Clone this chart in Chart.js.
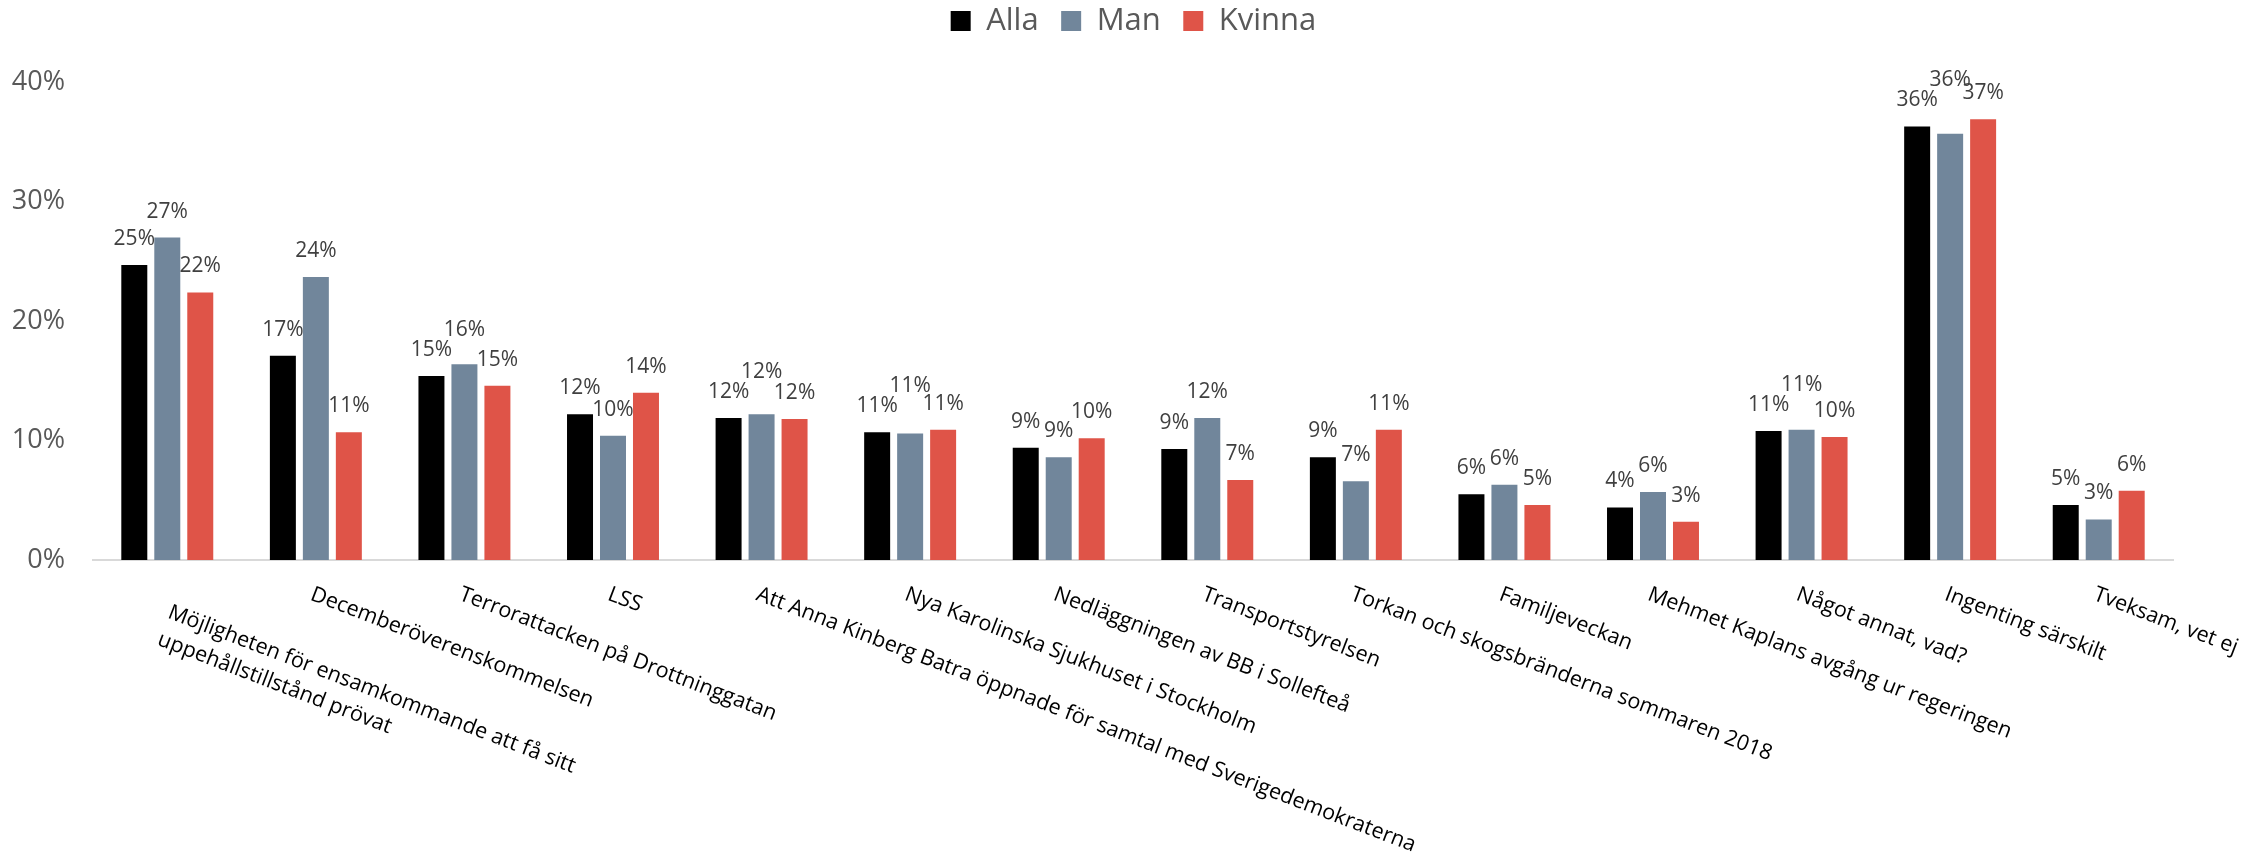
<!DOCTYPE html>
<html lang="sv">
<head>
<meta charset="utf-8">
<title>Händelser</title>
<script src="https://cdn.jsdelivr.net/npm/chart.js@4.4.1/dist/chart.umd.min.js"></script>
<style>
    html, body { margin: 0; padding: 0; background: #ffffff; }
    #wrap { width: 2267px; height: 860px; }
</style>
</head>
<body>
<div id="wrap"><canvas id="eventChart" width="2267" height="860"></canvas></div>
<script>
const categories = [
    ["Möjligheten för ensamkommande att få sitt", "uppehållstillstånd prövat"],
    "Decemberöverenskommelsen",
    "Terrorattacken på Drottninggatan",
    "LSS",
    "Att Anna Kinberg Batra öppnade för samtal med Sverigedemokraterna",
    "Nya Karolinska Sjukhuset i Stockholm",
    "Nedläggningen av BB i Sollefteå",
    "Transportstyrelsen",
    "Torkan och skogsbränderna sommaren 2018",
    "Familjeveckan",
    "Mehmet Kaplans avgång ur regeringen",
    "Något annat, vad?",
    "Ingenting särskilt",
    "Tveksam, vet ej"
];
const seriesNames = ["Alla", "Man", "Kvinna"];
const alla   = [24.7, 17.1, 15.4, 12.2, 11.9, 10.7, 9.4, 9.3, 8.6, 5.5, 4.4, 10.8, 36.3, 4.6];
const man    = [27.0, 23.7, 16.4, 10.4, 12.2, 10.6, 8.6, 11.9, 6.6, 6.3, 5.7, 10.9, 35.7, 3.4];
const kvinna = [22.4, 10.7, 14.6, 14.0, 11.8, 10.9, 10.2, 6.7, 10.9, 4.6, 3.2, 10.3, 36.9, 5.8];
const yTicks = [0, 10, 20, 30, 40];

const FONT = "'Open Sans', sans-serif";
Chart.defaults.font.family = FONT;

// value labels above each bar, the middle one is lifted when it hits the first one
const barValueLabels = {
    id: 'barValueLabels',
    afterDatasetsDraw(chart) {
        const ctx = chart.ctx;
        const offset = 26;
        const minGap = 20;
        ctx.save();
        ctx.font = "21px " + FONT;
        ctx.fillStyle = '#404040';
        ctx.textAlign = 'center';
        ctx.textBaseline = 'middle';

        const metas = chart.data.datasets.map((ds, i) => chart.getDatasetMeta(i));
        categories.forEach((cat, j) => {
            const items = chart.data.datasets.map((ds, i) => {
                const bar = metas[i].data[j];
                const text = Math.round(ds.data[j]) + '%';
                return { text, x: bar.x, y: bar.y - offset, w: ctx.measureText(text).width };
            });
            const first = items[0];
            const mid = items[1];
            const overlapX = Math.abs(mid.x - first.x) < (mid.w + first.w) / 2;
            if (overlapX && Math.abs(first.y - mid.y) < minGap) {
                mid.y = first.y - minGap;
            }
            items.forEach(it => ctx.fillText(it.text, it.x, it.y));
        });
        ctx.restore();
    }
};

// category labels slanted down to the right, starting at each tick
const slantedCategoryLabels = {
    id: 'slantedCategoryLabels',
    afterDraw(chart) {
        const ctx = chart.ctx;
        const xScale = chart.scales.x;
        const angle = 21 * Math.PI / 180;
        const lineHeight = 29;
        const capHeight = 15.4;
        ctx.save();
        ctx.font = "21.5px " + FONT;
        ctx.fillStyle = '#000000';
        ctx.textAlign = 'left';
        ctx.textBaseline = 'alphabetic';
        categories.forEach((label, i) => {
            const lines = Array.isArray(label) ? label : [label];
            const extra = lines.length - 1;
            const left = xScale.getPixelForValue(i) - 1 + extra * 6;
            const top = xScale.top + 25 + extra * 18;
            ctx.save();
            ctx.translate(left, top);
            ctx.rotate(angle);
            lines.forEach((line, k) => {
                ctx.fillText(line, 0, capHeight + k * lineHeight);
            });
            ctx.restore();
        });
        ctx.restore();
    }
};

new Chart(document.getElementById('eventChart'), {
    type: 'bar',
    data: {
        labels: categories,
        datasets: [
            { label: seriesNames[0], data: alla, backgroundColor: '#000000' },
            { label: seriesNames[1], data: man, backgroundColor: '#71869b' },
            { label: seriesNames[2], data: kvinna, backgroundColor: '#df5448' }
        ]
    },
    options: {
        responsive: false,
        devicePixelRatio: 1,
        animation: false,
        datasets: {
            bar: { categoryPercentage: 0.666, barPercentage: 0.788 }
        },
        layout: { padding: { top: -17, right: 0, bottom: 0, left: 0 } },
        plugins: {
            legend: {
                position: 'top',
                align: 'center',
                labels: {
                    boxWidth: 20,
                    boxHeight: 20,
                    padding: 22.5,
                    color: '#595959',
                    font: { size: 31 }
                }
            },
            tooltip: { enabled: false }
        },
        scales: {
            x: {
                grid: { display: false, drawTicks: false },
                border: { display: true, color: '#d9d9d9', width: 2 },
                ticks: { display: false },
                afterFit: scale => { scale.height = 300; }
            },
            y: {
                min: 0,
                max: 43,
                grid: { display: false, drawTicks: false },
                border: { display: false },
                ticks: {
                    padding: 28,
                    color: '#595959',
                    font: { size: 27 },
                    callback: v => v + '%'
                },
                afterBuildTicks: scale => { scale.ticks = yTicks.map(v => ({ value: v })); },
                afterFit: scale => { scale.width = 93; }
            },
            // empty axis on the right, only keeps the margin (legend stays centred on the page)
            yRight: {
                position: 'right',
                grid: { display: false, drawTicks: false },
                border: { display: false },
                ticks: { display: false },
                afterFit: scale => { scale.width = 94; }
            }
        }
    },
    plugins: [barValueLabels, slantedCategoryLabels]
});
</script>
</body>
</html>
